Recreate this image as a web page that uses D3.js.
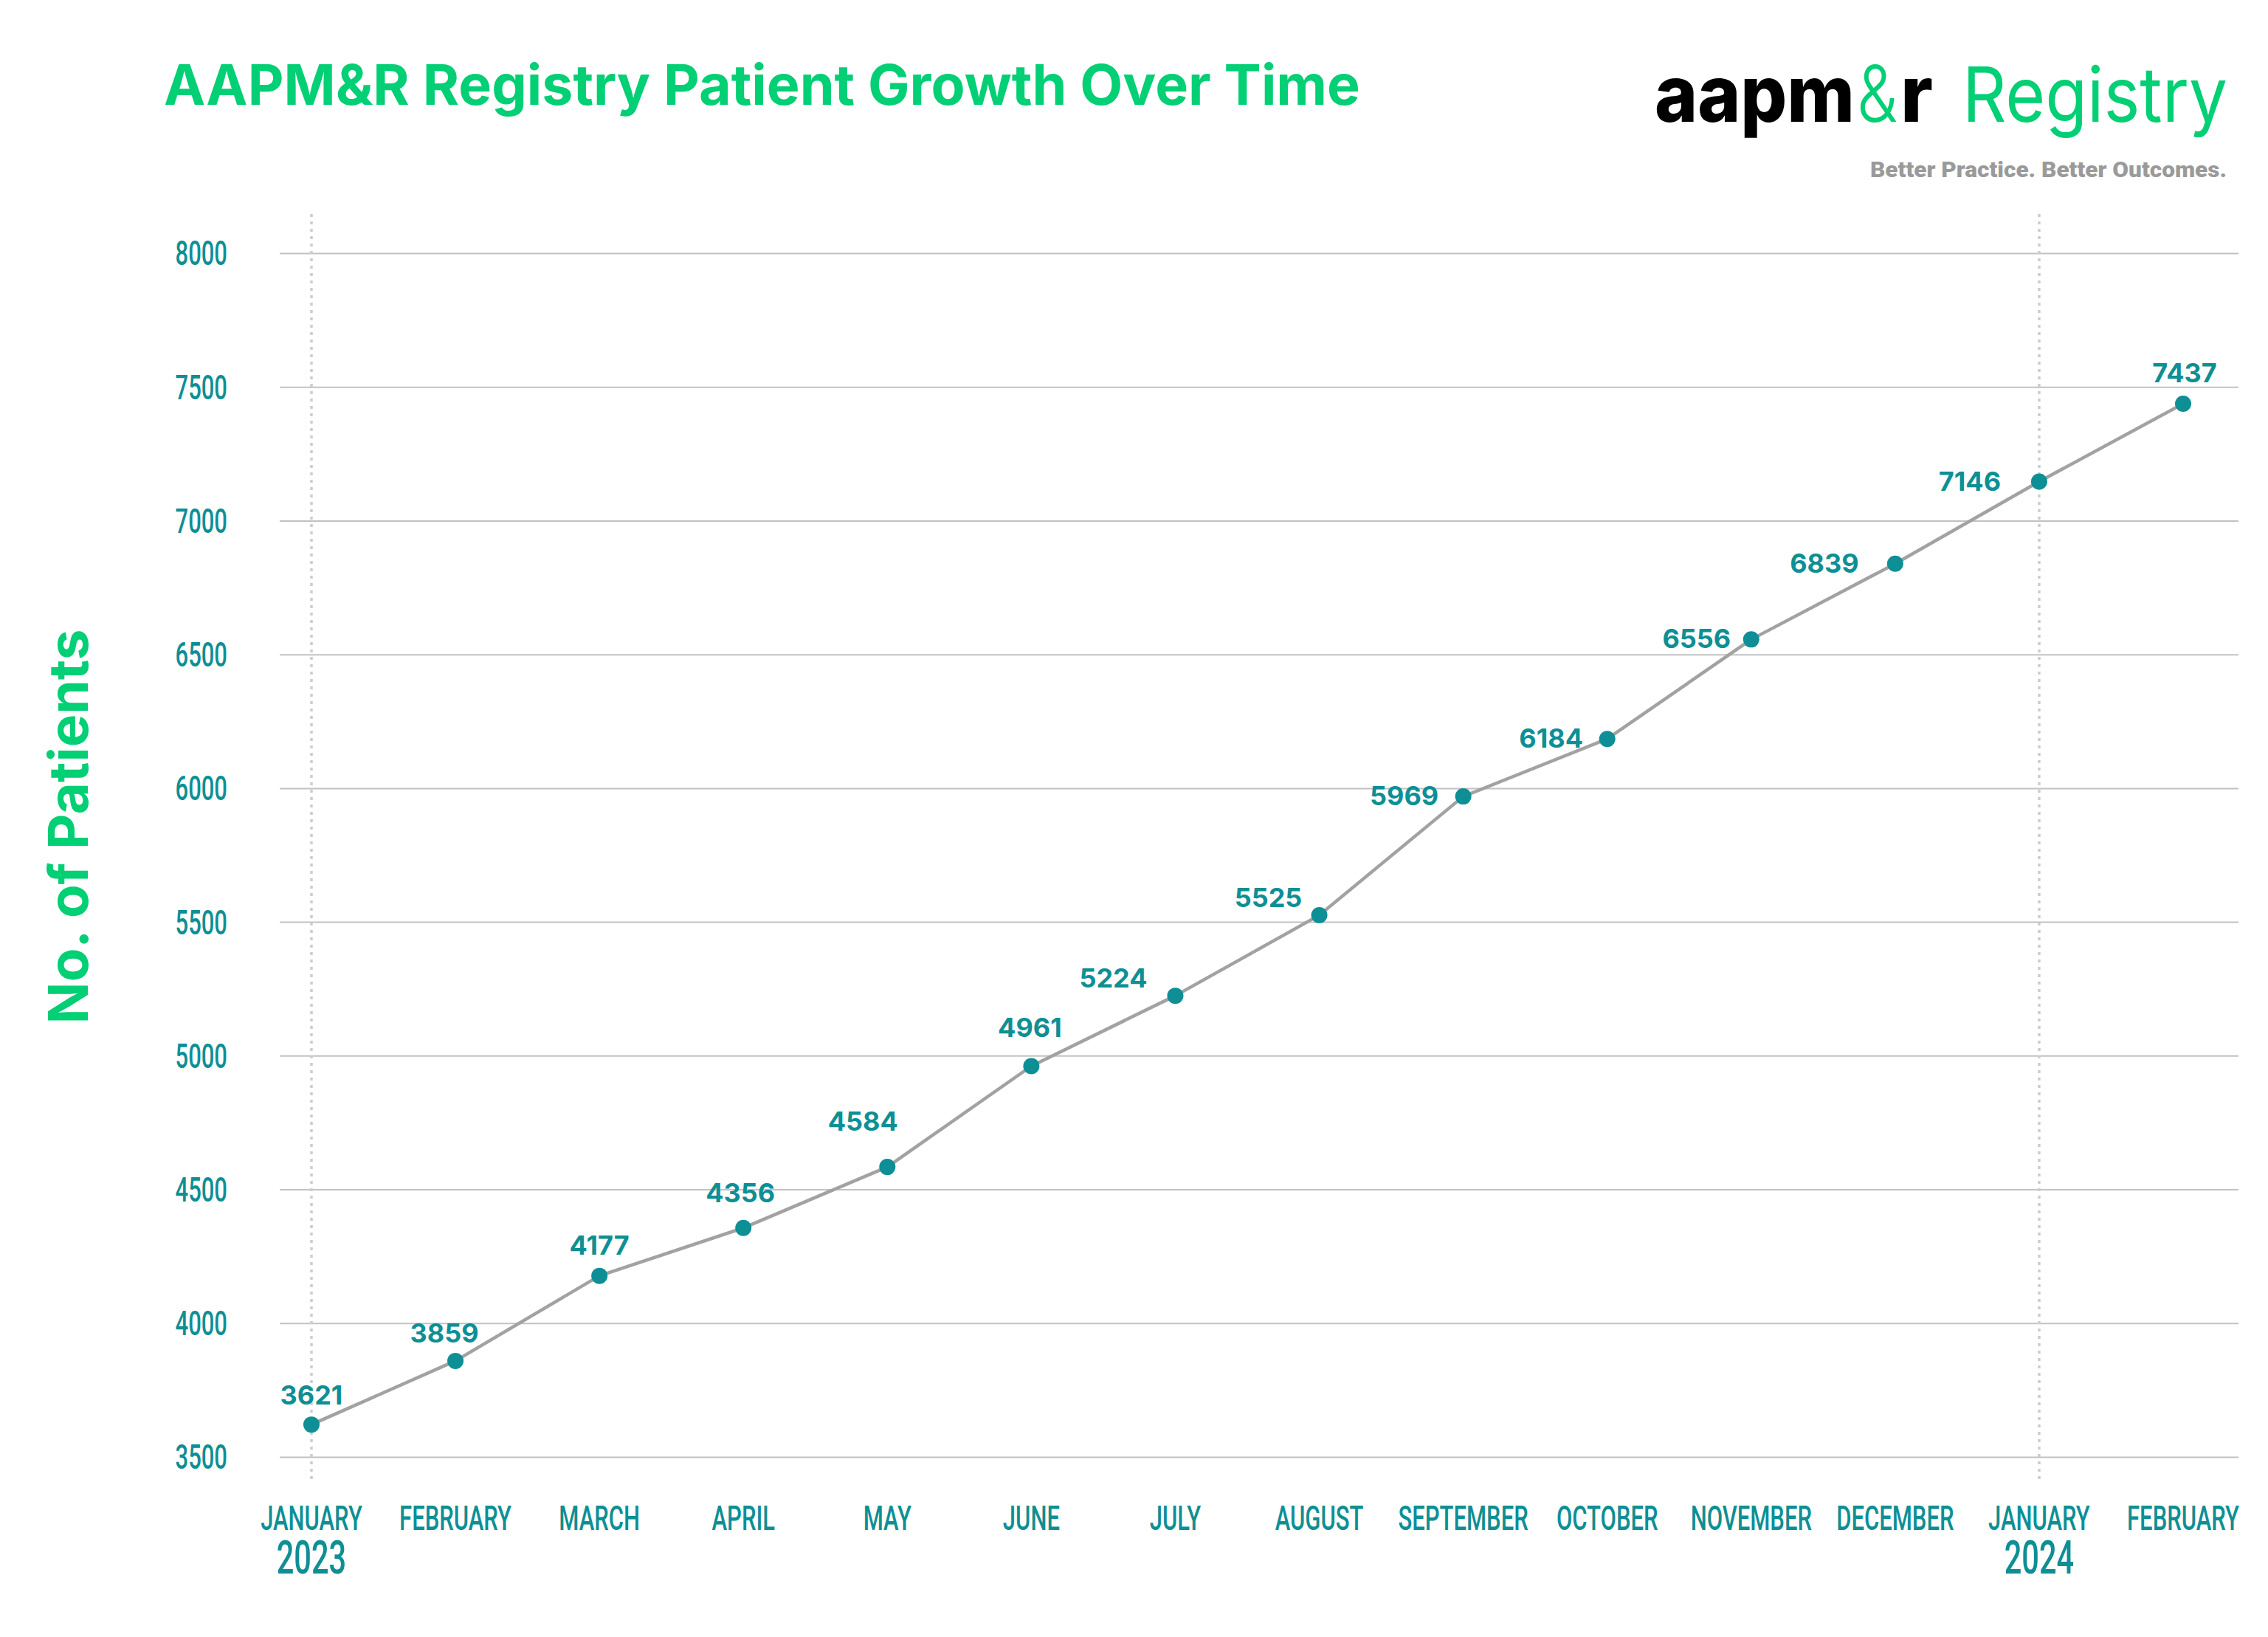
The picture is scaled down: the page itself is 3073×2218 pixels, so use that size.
<!DOCTYPE html>
<html>
<head>
<meta charset="utf-8">
<script src="https://cdn.jsdelivr.net/npm/d3@7"></script>
<style>
  html, body { margin: 0; padding: 0; background: #ffffff; }
  svg { display: block; }
</style>
</head>
<body>
<svg id="chart" width="3073" height="2218"></svg>
<script>
// ---------------- DATA ----------------
const months = ["JANUARY", "FEBRUARY", "MARCH", "APRIL", "MAY", "JUNE", "JULY",
                "AUGUST", "SEPTEMBER", "OCTOBER", "NOVEMBER", "DECEMBER", "JANUARY", "FEBRUARY"];
const years = ["2023", "", "", "", "", "", "", "", "", "", "", "", "2024", ""];
const patients = [3621, 3859, 4177, 4356, 4584, 4961, 5224, 5525, 5969, 6184, 6556, 6839, 7146, 7437];
const yTicks = [3500, 4000, 4500, 5000, 5500, 6000, 6500, 7000, 7500, 8000];
const yearStartIdx = [0, 12];

const titleText = "AAPM&R Registry Patient Growth Over Time";
const yTitleText = "No. of Patients";

// ---------------- STYLE / LAYOUT ----------------
const GREEN = "#03cf75";
const TEAL = "#0e8f95";
const LINE_GREY = "#a2a2a2";
const GRID = "#c2c2c2";
const COND = 0.66; // horizontal squeeze for condensed axis text

const svg = d3.select("#chart");

const x = d3.scalePoint().domain(d3.range(months.length)).range([422, 2958]);
const y = d3.scaleLinear().domain([3500, 8000]).range([1974, 343]);

// Title
svg.append("text")
  .attr("x", 222).attr("y", 142)
  .attr("font-family", "Inter, 'Noto Sans', sans-serif")
  .attr("font-weight", 700)
  .attr("font-size", 76)
  .attr("fill", GREEN)
  .attr("textLength", 1621)
  .attr("lengthAdjust", "spacingAndGlyphs")
  .text(titleText);

// Logo (one text with styled pieces)
const logoFont = "Inter, 'Noto Sans', sans-serif";
const logo = svg.append("text").attr("y", 165)
  .attr("font-family", logoFont).attr("font-size", 106);
logo.append("tspan").attr("x", 2242).attr("font-weight", 800).attr("fill", "#000")
  .attr("textLength", 271).attr("lengthAdjust", "spacingAndGlyphs").text("aapm");
logo.append("tspan").attr("x", 2516).attr("font-weight", 300).attr("fill", GREEN)
  .attr("textLength", 55).attr("lengthAdjust", "spacingAndGlyphs").text("&");
logo.append("tspan").attr("x", 2575).attr("font-weight", 800).attr("fill", "#000")
  .attr("textLength", 44).attr("lengthAdjust", "spacingAndGlyphs").text("r");
logo.append("tspan").attr("x", 2659).attr("font-weight", 400).attr("font-size", 103).attr("fill", GREEN)
  .attr("textLength", 359).attr("lengthAdjust", "spacingAndGlyphs").text("Registry");

svg.append("text").attr("x", 2534).attr("y", 240)
  .attr("font-family", "Roboto, sans-serif").attr("font-weight", 900).attr("font-size", 30)
  .attr("fill", "#9a9a9a").attr("textLength", 483).attr("lengthAdjust", "spacingAndGlyphs")
  .text("Better Practice. Better Outcomes.");

// Y axis title
svg.append("text")
  .attr("transform", "translate(119,1120) rotate(-90)")
  .attr("text-anchor", "middle")
  .attr("font-family", "Inter, 'Noto Sans', sans-serif")
  .attr("font-weight", 700)
  .attr("font-size", 74)
  .attr("fill", GREEN)
  .attr("textLength", 535)
  .attr("lengthAdjust", "spacingAndGlyphs")
  .text(yTitleText);

// Gridlines through d3 axis
const gridG = svg.append("g").attr("transform", "translate(379,0)");
gridG.call(d3.axisLeft(y).tickValues(yTicks).tickSize(-(3033 - 379)).tickFormat(""));
gridG.select(".domain").remove();
gridG.selectAll(".tick line").attr("stroke", GRID).attr("stroke-width", 2);

// Y tick labels (condensed)
const yLab = svg.append("g");
yTicks.forEach(v => {
  yLab.append("g")
    .attr("transform", `translate(308,${y(v)})`)
    .append("text")
    .attr("transform", `scale(${COND},1)`)
    .attr("text-anchor", "end")
    .attr("dy", "0.35em")
    .attr("font-family", "Roboto, sans-serif")
    .attr("font-weight", 500)
    .attr("font-size", 47)
    .attr("fill", TEAL)
    .text(d3.format("d")(v));
});

// Dotted year separators
yearStartIdx.forEach(i => {
  svg.append("line")
    .attr("x1", x(i)).attr("x2", x(i))
    .attr("y1", 290).attr("y2", 2009)
    .attr("stroke", "#cdcdcd")
    .attr("stroke-width", 3.5)
    .attr("stroke-dasharray", "4,6");
});

// Month and year labels (year as second line of the same text)
const xLab = svg.append("g");
months.forEach((m, i) => {
  const t = xLab.append("g")
    .attr("transform", `translate(${x(i)},2073)`)
    .append("text")
    .attr("transform", `scale(${COND},1)`)
    .attr("text-anchor", "middle")
    .attr("font-family", "Roboto, sans-serif")
    .attr("font-weight", 500)
    .attr("font-size", 47)
    .attr("fill", TEAL);
  t.append("tspan").attr("x", 0).attr("y", 0).text(m);
  if (years[i]) {
    t.append("tspan").attr("x", 0).attr("y", 59).attr("font-size", 63).text(years[i]);
  }
});

// Line
const line = d3.line().x((d, i) => x(i)).y(d => y(d));
svg.append("path")
  .datum(patients)
  .attr("d", line)
  .attr("fill", "none")
  .attr("stroke", LINE_GREY)
  .attr("stroke-width", 4.5)
  .attr("stroke-linejoin", "round");

// Points
svg.append("g").selectAll("circle")
  .data(patients)
  .join("circle")
  .attr("cx", (d, i) => x(i))
  .attr("cy", d => y(d))
  .attr("r", 11)
  .attr("fill", TEAL);

// Value labels (placement offsets from each point: [dx of text centre, dy of baseline])
const labelOffset = [[0, -27], [-15, -25], [0, -29], [-4, -35], [-33, -49], [-2, -39], [-84, -11],
                     [-69, -11], [-80, 12], [-76, 12], [-74, 12], [-96, 12], [-94, 12], [2, -29]];
svg.append("g").selectAll("text")
  .data(patients)
  .join("text")
  .attr("x", (d, i) => x(i) + labelOffset[i][0])
  .attr("y", (d, i) => y(d) + labelOffset[i][1])
  .attr("text-anchor", "middle")
  .attr("font-family", "Inter, 'Noto Sans', sans-serif")
  .attr("font-weight", 700)
  .attr("font-size", 36)
  .attr("fill", TEAL)
  .text(d => d);
</script>
</body>
</html>
